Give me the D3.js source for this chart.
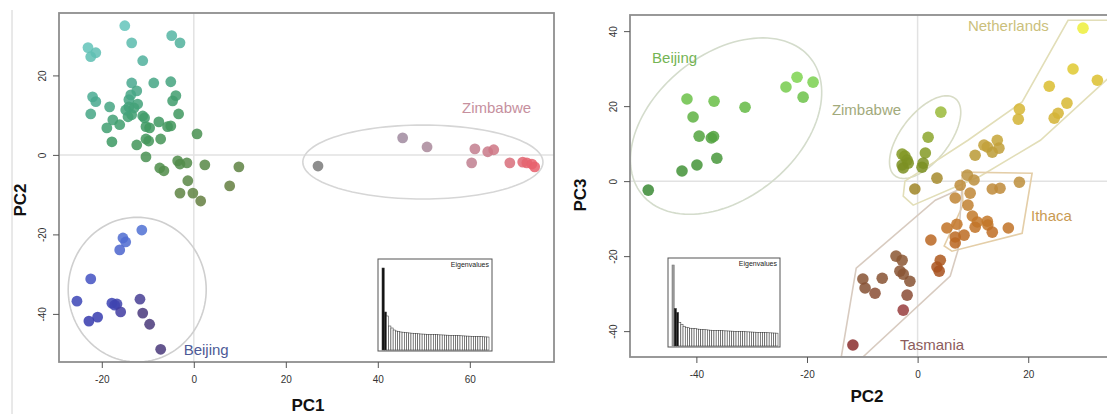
<!DOCTYPE html>
<html>
<head>
<meta charset="utf-8">
<script src="https://cdn.jsdelivr.net/npm/d3@7"></script>
<style>
  body { margin: 0; background: #fff; }
  svg { display: block; }
  text { font-family: "Liberation Sans", Arial, sans-serif; }
</style>
</head>
<body>
<svg id="chart" width="1107" height="414"></svg>
<script>
// ---------- PC1 / PC2 scores ----------
const pc12Main = [[-15.0,32.5],[-4.8,30.0],[-3.0,28.2],[-13.5,28.2],[-23.0,27.0],[-21.3,25.7],[-22.4,24.7],
  [-11.1,23.7],[-13.5,18.1],[-8.7,18.1],[-5.0,18.4],[-12.4,16.1],[-22.0,14.6],[-21.3,13.4],[-3.9,14.9],
  [-4.6,13.6],[-14.1,13.9],[-12.2,12.8],[-18.3,12.1],[-14.1,12.1],[-22.4,10.3],[-13.5,10.1],[-3.3,10.3],
  [-11.1,9.8],[-17.6,8.8],[-14.3,9.6],[-7.6,8.3],[-16.1,7.6],[-18.9,6.8],[-10.4,7.1],[-5.7,7.1],[-5.0,7.3],
  [-17.8,3.3],[-12.4,2.5],[-10.4,4.0],[-9.8,3.5],[-7.2,4.0],[0.7,5.3],[-10.4,-0.5],[-7.4,-3.3],[-6.5,-4.0],
  [-3.5,-1.5],[-3.0,-2.3],[-1.5,-2.0],[2.4,-2.5],[9.8,-3.0],[-1.3,-6.5],[7.8,-7.8],[-3.0,-9.6],[-0.2,-9.6],
  [1.5,-11.6],[-13.7,15.1],[-14.8,11.3],[-13.0,11.8],[-10.7,9.3],[-9.6,6.8]];
const pc12Beijing = [[-11.3,-18.9],[-15.4,-20.9],[-14.8,-21.9],[-16.1,-23.9],[-22.4,-31.2],[-25.4,-36.8],
  [-17.8,-37.3],[-16.7,-37.5],[-17.2,-37.8],[-11.7,-36.3],[-15.9,-39.5],[-20.9,-40.8],[-22.8,-41.8],
  [-11.1,-39.8],[-9.6,-42.6],[-7.2,-48.9]];
const pc12Zimbabwe = [[27.0,-2.8],[45.4,4.3],[50.7,2.0],[61.1,1.5],[63.9,0.8],[65.2,1.3],[60.4,-2.0],
  [68.7,-2.0],[71.5,-1.8],[72.4,-2.0],[73.5,-2.3],[74.1,-3.0]];

// ---------- PC2 / PC3 scores ----------
const pc23Beijing = [[-48.7,-2.4],[-42.6,2.7],[-39.9,4.3],[-36.3,6.1],[-39.5,12.0],[-37.3,11.5],[-36.9,11.9],
  [-40.6,17.1],[-41.7,21.9],[-36.8,21.3],[-31.2,19.7],[-23.8,25.1],[-21.8,27.7],[-18.9,26.4],[-20.7,22.4]];
const pc23Zimbabwe = [[4.2,18.4],[1.9,11.7],[1.4,7.5],[-2.8,7.2],[-2.3,6.7],[-1.9,5.6],[-1.7,4.8],
  [-2.8,4.3],[-2.6,3.5],[1.0,4.8],[0.8,3.7]];
const pc23Netherlands = [[29.9,40.8],[28.1,29.9],[32.5,26.9],[23.8,25.3],[27.0,20.8],[25.4,18.1],[24.7,16.8],
  [18.4,19.2],[18.2,16.5],[14.4,10.9],[12.6,9.1],[13.5,7.7],[14.7,8.8],[12.0,9.6],[10.4,6.9],[3.5,0.8],[-0.5,-2.1]];
const pc23Ithaca = [[9.0,1.6],[10.2,0.3],[7.7,-1.1],[9.5,-3.2],[6.8,-4.5],[13.5,-2.1],[14.9,-1.9],[18.4,-0.3],
  [9.1,-6.4],[9.9,-9.3],[10.8,-10.9],[12.6,-10.7],[12.7,-11.7],[10.4,-12.3],[13.5,-13.6],[16.4,-12.5],
  [5.3,-12.5],[7.1,-11.5],[8.4,-14.4],[6.8,-14.9],[6.8,-16.5],[2.4,-15.7],[4.1,-21.1],[3.5,-22.9],[3.9,-24.0]];
const pc23Tasmania = [[-3.9,-20.0],[-2.8,-21.1],[-3.2,-24.0],[-2.6,-24.8],[-1.4,-26.7],[-6.4,-25.9],
  [-9.9,-26.1],[-9.5,-28.5],[-7.7,-29.9],[-1.9,-30.4],[-2.6,-34.4],[-11.7,-43.7]];

// ---------- group outlines (data units) ----------
const hullNetherlands = [[27.2,42.9],[35.7,42.9],[35.7,29.1],[22.2,10.9],[11.3,1.3],[-0.8,-6.4],[-2.6,-4.0],
  [-2.3,0],[9.1,10.9],[18.9,21.1]];
const hullIthaca = [[8.0,2.4],[20.7,2.1],[18.9,-13.9],[6.2,-18.7],[4.8,-17.3],[8.2,-6.4]];
const hullTasmania = [[-13.8,-46.9],[-11.1,-23.2],[3.2,-5.1],[8.0,-1.9],[7.3,-18.4],[5.9,-25.3],[-9.9,-46.9]];
// ellipses: centre plus two conjugate semi-axis vectors
const ellBeijing12 = {c: [-12.3,-33.9], u: [15.0,0], v: [0,18.2]};
const ellZimbabwe12 = {c: [49.8,-1.8], u: [26.1,0], v: [0,9.3]};
const ellBeijing23 = {c: [-34.63,14.67], u: [15.23,18.19], v: [8.19,-14.91]};
const ellZimbabwe23 = {c: [1.36,11.73], u: [5.46,10.29], v: [3.42,-3.95]};

// ---------- scree plot ----------
const eigenvalues = [8.2,3.8,3.4,2.4,2.2,2.0,1.9,1.85,1.8,1.78,1.75,1.72,1.7,1.68,1.66,1.64,1.62,1.6,1.59,
  1.58,1.57,1.56,1.55,1.54,1.53,1.52,1.51,1.5,1.49,1.48,1.47,1.46,1.45,1.44,1.43,1.42,1.41,1.4,1.39,1.38,
  1.37,1.36,1.35,1.34,1.33,1.32,1.31,1.3];

// ---------- ticks & labels ----------
const ticksPC1 = [-20, 0, 20, 40, 60];
const ticksPC2left = [-40, -20, 0, 20];
const ticksPC2right = [-40, -20, 0, 20];
const ticksPC3 = [-40, -20, 0, 20, 40];
const labelsLeft = [{name: "Zimbabwe", at: [58.3, 10.6], color: "#c6909e"},
                    {name: "Beijing", at: [-2.2, -50.4], color: "#4d5a96"}];
const labelsRight = [{name: "Beijing", at: [-48.0, 31.5], color: "#74b454"},
                     {name: "Zimbabwe", at: [-15.5, 17.6], color: "#a2aa7c"},
                     {name: "Netherlands", at: [9.1, 40.0], color: "#cbbf7c"},
                     {name: "Ithaca", at: [20.5, -10.7], color: "#c99a52"},
                     {name: "Tasmania", at: [-3.2, -45.1], color: "#8c5c5c"}];

const svg = d3.select("#chart");
const lab = d3.interpolateLab;
const clamp = v => Math.max(0, Math.min(1, v));

// colour ramps for the point groups
const cMain = d3.scaleLinear().domain([0, 0.3, 0.5, 0.7, 1])
  .range(["#6ccdc8", "#4aaa92", "#3e9a64", "#4f8e4c", "#6c7a3e"]).interpolate(lab).clamp(true);
const colMain = d => cMain(((32 - d[1]) / 44) * 0.7 + ((d[0] + 23) / 33) * 0.3);
const cBeijingBlue = d3.scaleLinear().domain([-19, -30, -45]).range(["#5272d4", "#4656c4", "#3434a8"]).interpolate(lab).clamp(true);
const colBeijing12 = d => lab(cBeijingBlue(d[1]), "#4a3a7c")(clamp((d[0] + 18) / 7) * clamp((-30 - d[1]) / 10));
const cZim12 = d3.scaleLinear().domain([27, 45, 50, 62, 74])
  .range(["#7c7c7c", "#a08aa0", "#a88a9c", "#c47e8e", "#e8606c"]).interpolate(lab).clamp(true);
const colZim12 = d => cZim12(d[0]);
const cBj23 = d3.scaleLinear().domain([-3, 10, 20, 28]).range(["#3a8a36", "#4f9e3e", "#66bb46", "#80d552"]).interpolate(lab).clamp(true);
const cZw23 = d3.scaleLinear().domain([3, 8, 19]).range(["#7a8e22", "#869c28", "#9cbc3c"]).interpolate(lab).clamp(true);
const cNl23 = d3.scaleLinear().domain([-2, 2, 9, 17, 27, 41])
  .range(["#a08628", "#a88e30", "#c2a03a", "#d4b436", "#dcc030", "#eef03c"]).interpolate(lab).clamp(true);
const cIt23 = d3.scaleLinear().domain([-24, -15, -11, -4, 2])
  .range(["#a8521e", "#bc6a24", "#c4782a", "#c08636", "#bc9442"]).interpolate(lab).clamp(true);
const cTa23 = d3.scaleLinear().domain([-44, -34, -29, -20])
  .range(["#8a2e2e", "#9a4040", "#865234", "#8c5834"]).interpolate(lab).clamp(true);

// thin divider on the far left
svg.append("line").attr("x1", 12).attr("x2", 12).attr("y1", 10).attr("y2", 414)
  .attr("stroke", "#d2d2d2").attr("stroke-width", 1);

function ellipsePts(e) {
  return d3.range(0, 360, 3).map(a => {
    const t = a * Math.PI / 180;
    return [e.c[0] + e.u[0] * Math.cos(t) + e.v[0] * Math.sin(t),
            e.c[1] + e.u[1] * Math.cos(t) + e.v[1] * Math.sin(t)];
  });
}

function drawPanel(cfg) {
  const x = d3.scaleLinear().domain(cfg.xDomain).range(cfg.xRange);
  const y = d3.scaleLinear().domain(cfg.yDomain).range(cfg.yRange);
  const g = svg.append("g");
  const clipId = "clip-" + cfg.id;
  g.append("clipPath").attr("id", clipId).append("rect")
    .attr("x", cfg.xRange[0]).attr("y", cfg.yRange[1])
    .attr("width", cfg.xRange[1] - cfg.xRange[0]).attr("height", cfg.yRange[0] - cfg.yRange[1]);
  const plot = g.append("g").attr("clip-path", `url(#${clipId})`);

  // zero reference lines
  plot.append("line").attr("x1", cfg.xRange[0]).attr("x2", cfg.xRange[1]).attr("y1", y(0)).attr("y2", y(0))
    .attr("stroke", "#e2e2e2").attr("stroke-width", 1.5);
  plot.append("line").attr("x1", x(0)).attr("x2", x(0)).attr("y1", cfg.yRange[0]).attr("y2", cfg.yRange[1])
    .attr("stroke", "#e2e2e2").attr("stroke-width", 1.5);

  // group outlines
  const line = d3.line().x(p => x(p[0])).y(p => y(p[1])).curve(d3.curveLinearClosed);
  cfg.outlines.forEach(o => {
    plot.append("path").attr("d", line(o.pts)).attr("fill", "none")
      .attr("stroke", o.color).attr("stroke-width", 1.6);
  });

  // points
  cfg.groups.forEach(grp => {
    plot.append("g").selectAll("circle").data(grp.data).join("circle")
      .attr("cx", d => x(d[0])).attr("cy", d => y(d[1])).attr("r", cfg.r)
      .attr("fill", grp.color).attr("fill-opacity", 0.86);
  });

  // group names
  plot.append("g").selectAll("text").data(cfg.labels).join("text")
    .attr("x", d => x(d.at[0])).attr("y", d => y(d.at[1]))
    .attr("font-size", 15).attr("fill", d => d.color).text(d => d.name);

  // frame
  g.append("rect").attr("x", cfg.xRange[0]).attr("y", cfg.yRange[1])
    .attr("width", cfg.xRange[1] - cfg.xRange[0]).attr("height", cfg.yRange[0] - cfg.yRange[1])
    .attr("fill", "none").attr("stroke", "#8e8e8e").attr("stroke-width", 1.8);

  // axes
  const ax = g.append("g").attr("transform", `translate(0,${cfg.yRange[0]})`)
    .call(d3.axisBottom(x).tickValues(cfg.xTicks).tickSize(6).tickPadding(8).tickFormat(d3.format("d")));
  const ay = g.append("g").attr("transform", `translate(${cfg.xRange[0]},0)`)
    .call(d3.axisLeft(y).tickValues(cfg.yTicks).tickSize(6).tickFormat(d3.format("d")));
  [ax, ay].forEach(a => {
    a.select(".domain").remove();
    a.selectAll(".tick line").attr("stroke", "#555");
    a.selectAll("text").attr("font-size", 10).attr("fill", "#333")
      .attr("font-family", "\"Liberation Sans\", Arial, sans-serif");
  });
  ax.selectAll("text").text(d => d3.format("d")(d).replace("\u2212", "-"));
  ay.selectAll("text").text(d => d3.format("d")(d).replace("\u2212", "-"))
    .attr("x", null).attr("dy", null).attr("text-anchor", "middle")
    .attr("transform", "translate(-13,0) rotate(-90)");

  // axis titles
  g.append("text").attr("x", cfg.xTitle[0]).attr("y", cfg.xTitle[1]).attr("text-anchor", "middle")
    .attr("font-size", 17).attr("font-weight", "bold").attr("fill", "#111").text(cfg.xName);
  g.append("text").attr("transform", `translate(${cfg.yTitle[0]},${cfg.yTitle[1]}) rotate(-90)`)
    .attr("text-anchor", "middle").attr("font-size", 17).attr("font-weight", "bold").attr("fill", "#111")
    .text(cfg.yName);
}

function drawScree(cfg) {
  const g = svg.append("g");
  g.append("rect").attr("x", cfg.box[0]).attr("y", cfg.box[1]).attr("width", cfg.box[2]).attr("height", cfg.box[3])
    .attr("fill", "#fff").attr("stroke", "#555").attr("stroke-width", 1);
  const bx = d3.scaleBand().domain(d3.range(eigenvalues.length)).range(cfg.barsX).paddingInner(0);
  const by = d3.scaleLinear().domain([0, d3.max(eigenvalues)]).range([cfg.base, cfg.top]);
  g.selectAll("rect.bar").data(eigenvalues).join("rect").attr("class", "bar")
    .attr("x", (d, i) => bx(i)).attr("width", bx.bandwidth())
    .attr("y", d => by(d)).attr("height", d => by(0) - by(d))
    .attr("fill", (d, i) => cfg.dark.includes(i) ? "#111" : (cfg.grey.includes(i) ? "#9a9a9a" : "#fff"))
    .attr("stroke", (d, i) => cfg.grey.includes(i) ? "#777" : "#3a3a3a").attr("stroke-width", 0.55);
  g.append("text").attr("x", cfg.box[0] + cfg.box[2] - 3).attr("y", cfg.box[1] + 8)
    .attr("text-anchor", "end").attr("font-size", 7).attr("fill", "#222").text("Eigenvalues");
}

drawPanel({
  id: "pc12", xDomain: [-29.3, 78.3], xRange: [59, 554], yDomain: [-52.1, 35.7], yRange: [362, 13], r: 5.4,
  xTicks: ticksPC1, yTicks: ticksPC2left, xName: "PC1", yName: "PC2", xTitle: [308, 411], yTitle: [26, 200],
  outlines: [{pts: ellipsePts(ellBeijing12), color: "#cfcfcf"}, {pts: ellipsePts(ellZimbabwe12), color: "#d6d6d6"}],
  groups: [{data: pc12Main, color: colMain}, {data: pc12Beijing, color: colBeijing12}, {data: pc12Zimbabwe, color: colZim12}],
  labels: labelsLeft
});
drawScree({box: [378, 259, 114, 92], barsX: [382, 489], base: 350, top: 268, dark: [0, 1], grey: []});

drawPanel({
  id: "pc23", xDomain: [-52, 38.4], xRange: [630, 1130], yDomain: [-46.9, 44.3], yRange: [357, 15], r: 5.8,
  xTicks: ticksPC2right, yTicks: ticksPC3, xName: "PC2", yName: "PC3", xTitle: [867, 402], yTitle: [586, 195],
  outlines: [{pts: ellipsePts(ellBeijing23), color: "#d4dccc"}, {pts: ellipsePts(ellZimbabwe23), color: "#d8dcc6"},
             {pts: hullNetherlands, color: "#e2deb8"}, {pts: hullIthaca, color: "#e4cea8"},
             {pts: hullTasmania, color: "#d8cbc0"}],
  groups: [{data: pc23Beijing, color: d => cBj23(d[1])}, {data: pc23Zimbabwe, color: d => cZw23(d[1])},
           {data: pc23Netherlands, color: d => cNl23(d[1])}, {data: pc23Ithaca, color: d => cIt23(d[1])},
           {data: pc23Tasmania, color: d => cTa23(d[1])}],
  labels: labelsRight
});
drawScree({box: [668, 258, 112, 89], barsX: [672, 778], base: 346, top: 265, dark: [1, 2], grey: [0]});
</script>
</body>
</html>
